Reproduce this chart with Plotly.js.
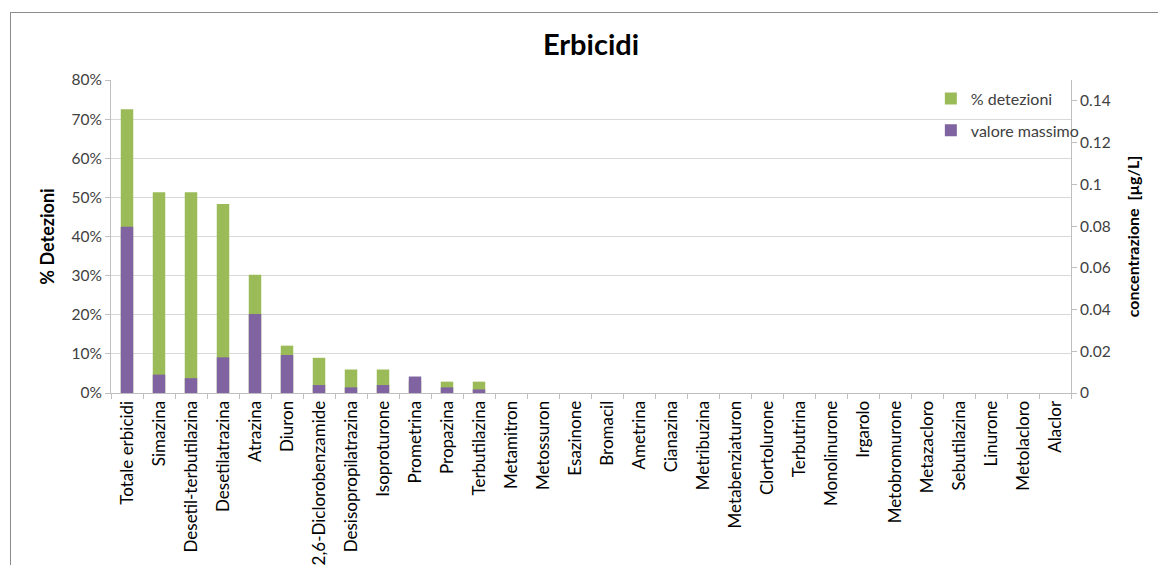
<!DOCTYPE html>
<html>
<head>
<meta charset="utf-8">
<script src="https://cdn.plot.ly/plotly-3.0.1.min.js"></script>
<style>
  html, body { margin: 0; padding: 0; background: #ffffff; overflow: hidden; }
  #frame { position: absolute; left: 10px; top: 12px; width: 1300px; height: 700px;
           border-left: 1.5px solid #8c8c8c; border-top: 1.5px solid #8c8c8c; }
  #chart { position: absolute; left: 0; top: 0; width: 1158px; height: 565px; }
</style>
</head>
<body>
<div id="frame"></div>
<div id="chart"></div>
<script>
const categories = [
  "Totale erbicidi", "Simazina", "Desetil-terbutilazina", "Desetilatrazina", "Atrazina",
  "Diuron", "2,6-Diclorobenzamide", "Desisopropilatrazina", "Isoproturone", "Prometrina",
  "Propazina", "Terbutilazina", "Metamitron", "Metossuron", "Esazinone", "Bromacil",
  "Ametrina", "Cianazina", "Metribuzina", "Metabenziaturon", "Clortolurone", "Terbutrina",
  "Monolinurone", "Irgarolo", "Metobromurone", "Metazacloro", "Sebutilazina", "Linurone",
  "Metolacloro", "Alaclor"
];

// % detezioni (left axis, percent)
const detezioni = [
  72.5, 51.3, 51.3, 48.3, 30.2,
  12.1, 9.0, 6.0, 6.0, 3.0,
  2.9, 2.9, 0, 0, 0, 0,
  0, 0, 0, 0, 0, 0,
  0, 0, 0, 0, 0, 0,
  0, 0
];

// valore massimo (right axis, µg/L)
const valoreMassimo = [
  0.0797, 0.0088, 0.0071, 0.0171, 0.0379,
  0.0182, 0.0038, 0.0027, 0.0038, 0.0079,
  0.0027, 0.0017, 0, 0, 0, 0,
  0, 0, 0, 0, 0, 0,
  0, 0, 0, 0, 0, 0,
  0, 0
];

const FONT = "Lato, 'Liberation Sans', sans-serif";

const traces = [
  {
    type: "bar", name: "% detezioni", x: categories, y: detezioni,
    yaxis: "y", width: 0.39, legendgroup: "a",
    marker: { color: "#9bbb59" }, hoverinfo: "skip"
  },
  {
    type: "bar", name: "valore massimo", x: categories, y: valoreMassimo,
    yaxis: "y2", width: 0.39, legendgroup: "b",
    marker: { color: "#8064a2" }, hoverinfo: "skip"
  }
];

const layout = {
  width: 1158, height: 565,
  margin: { l: 111, r: 87, t: 80, b: 172, pad: 0 },
  paper_bgcolor: "rgba(0,0,0,0)",
  plot_bgcolor: "#ffffff",
  font: { family: FONT, size: 16, color: "#404040" },
  barmode: "overlay",
  showlegend: true,
  title: {
    text: "<b>Erbicidi</b>",
    font: { family: FONT, size: 29, color: "#000000" },
    x: 0.5, xanchor: "center", y: 0.92, yanchor: "middle", xref: "paper"
  },
  xaxis: {
    type: "category",
    tickangle: -90,
    ticks: "outside", ticklen: 5, tickcolor: "#bfbfbf", tickson: "boundaries",
    tickfont: { family: FONT, size: 17, color: "#000000" },
    showline: true, linecolor: "#bfbfbf", linewidth: 1,
    showgrid: false, automargin: false
  },
  yaxis: {
    range: [0, 80], dtick: 10, ticksuffix: "%",
    ticks: "outside", ticklen: 5, tickcolor: "#bfbfbf",
    tickfont: { family: FONT, size: 15.5, color: "#404040" },
    showline: true, linecolor: "#bfbfbf", linewidth: 1,
    gridcolor: "#d9d9d9", gridwidth: 1, zeroline: false,
    title: { text: "<b>% Detezioni</b>", font: { family: FONT, size: 18, color: "#000000" }, standoff: 12 },
    automargin: false
  },
  yaxis2: {
    overlaying: "y", side: "right",
    range: [0, 0.15], dtick: 0.02,
    ticks: "outside", ticklen: 5, tickcolor: "#bfbfbf",
    tickfont: { family: FONT, size: 15.5, color: "#404040" },
    showline: true, linecolor: "#bfbfbf", linewidth: 1,
    showgrid: false, zeroline: false,
    title: { text: "<b>concentrazione  [µg/L]</b>", font: { family: FONT, size: 16, color: "#000000" }, standoff: 18 },
    automargin: false
  },
  legend: {
    x: 0.854, y: 0.995, xanchor: "left", yanchor: "top",
    bgcolor: "rgba(255,255,255,0)",
    font: { family: FONT, size: 16, color: "#404040" },
    traceorder: "grouped", tracegroupgap: 8,
    itemwidth: 30
  }
};

Plotly.newPlot("chart", traces, layout, { displayModeBar: false, staticPlot: true });
</script>
</body>
</html>
